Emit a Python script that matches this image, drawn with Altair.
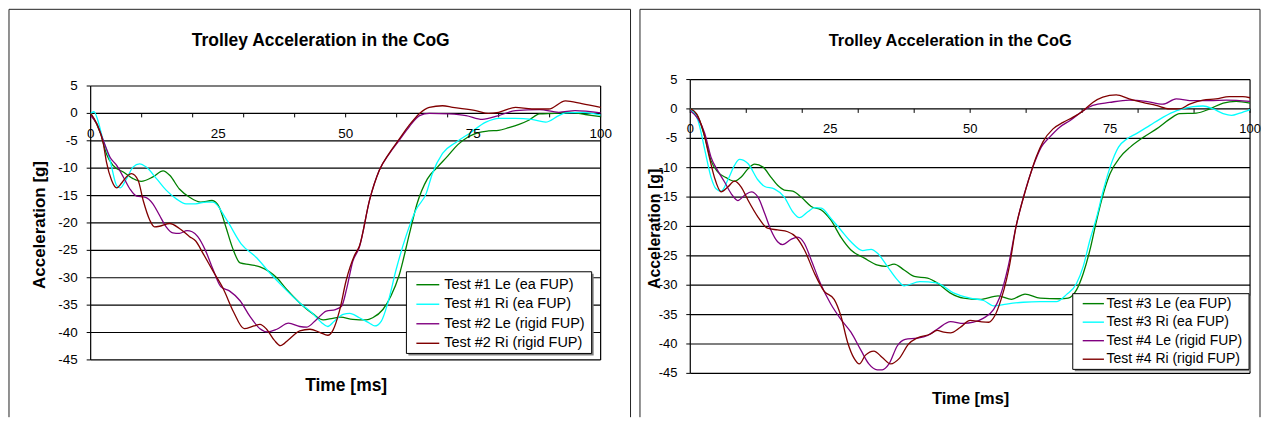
import altair as alt
import pandas as pd

FONT = "Liberation Sans"
NAMES_L = ["Test #1 Le (ea FUP)", "Test #1 Ri (ea FUP)", "Test #2 Le (rigid FUP)", "Test #2 Ri (rigid FUP)"]
NAMES_R = ["Test #3 Le (ea FUP)", "Test #3 Ri (ea FUP)", "Test #4 Le (rigid FUP)", "Test #4 Ri (rigid FUP)"]
COLORS = ["#008000", "#00FFFF", "#800080", "#800000"]
TITLE = "Trolley Acceleration in the CoG"
X_TITLE = "Time [ms]"
Y_TITLE = "Acceleration [g]"
X_TICKS = [0, 10, 20, 30, 40, 50, 60, 70, 80, 90, 100]
X_LABELS = [0, 25, 50, 75, 100]
Y_TICKS = [5, 0, -5, -10, -15, -20, -25, -30, -35, -40, -45]

# ---- left chart ----
t1le = [0, 2, 3.1, 4.4, 6.4, 8.3, 9.9, 12.2, 14.2, 15.5, 17.4, 19.4, 21.6, 23.8, 25.2, 26.5, 27.8, 29.3,
        31.2, 33.2, 36.5, 38.4, 41, 43.6, 45.6, 47.5, 49, 51.4, 54, 55.3, 57.3, 58.9, 60.5, 62.5, 64, 66,
        68, 70, 72, 74, 76, 78, 80, 82, 84, 86, 88, 91, 94, 97, 100]
v1le = [0, -3.8, -7.4, -9.5, -10.7, -11.9, -12.4, -11.6, -10.5, -11.3, -13.8, -15.3, -16.2, -15.9, -17.1,
        -20.7, -24.5, -27.3, -27.6, -28.0, -30.0, -32.1, -34.6, -36.6, -37.7, -37.4, -37.2, -37.6, -37.7,
        -37.3, -35.8, -33.3, -29.5, -22, -16.5, -12, -9.8, -7.8, -5.7, -4.3, -3.5, -3.2, -3.1, -2.6, -2.0,
        -1.2, -0.1, 0, 0.2, -0.2, -0.6]

t1ri = [0, 0.6, 2.5, 3.8, 5.1, 5.8, 7, 8.3, 9.6, 10.9, 12.9, 14.8, 16.8, 18.7, 20.6, 22.6, 24, 26.7, 29.5,
        32.6, 35, 38.4, 41, 43.6, 45.3, 46.5, 47.8, 49.5, 50.8, 52.7, 54.7, 55.7, 57, 58.3, 59.9, 61.8, 63.8,
        65.8, 67, 69, 71.6, 74.2, 77.5, 80, 83.3, 86.5, 89.2, 91.8, 93.1, 96.4, 100]
v1ri = [0, 0.3, -5, -8.6, -13.2, -13.6, -12, -9.8, -9.2, -9.8, -11.9, -14, -15.6, -16.5, -16.5, -16.2,
        -16.2, -19.5, -23.8, -26.4, -29, -32.3, -34.6, -36.6, -38.2, -38.9, -37.9, -36.7, -36.5, -37.3,
        -38.3, -38.8, -37.9, -34.5, -28.5, -22.5, -17.6, -14.6, -11, -7.3, -5.3, -3.7, -1.6, -0.9, -0.9,
        -1.1, -1.6, -0.4, 0.1, 0.2, -0.3]

t2le = [0, 1.2, 2.5, 3.8, 5.1, 6.4, 7.7, 9, 10.6, 12.2, 13.5, 14.8, 16.1, 17.4, 18.9, 19.9, 21, 22.5, 24,
        25.5, 27.2, 29.3, 31.2, 33.2, 34.7, 36.5, 38.8, 41, 42.4, 44.3, 46.2, 48, 49.2, 50.2, 51.4, 52.7,
        54.7, 56.6, 58.6, 60.5, 62.5, 64.5, 66.4, 70.3, 73.6, 76.8, 80, 83.3, 88, 91.8, 95, 100]
v2le = [-0.4, -1.9, -5, -8, -9.5, -11.6, -13.8, -15.1, -15.3, -16.5, -18.6, -20.7, -21.8, -21.9, -21.4,
        -21.6, -22.5, -25, -28.5, -31.6, -32.4, -34.2, -37, -39.3, -39.9, -39.4, -38.3, -38.9, -39, -37.6,
        -36.1, -35.8, -35.2, -32, -27, -24.4, -15.8, -10.4, -7.3, -4.9, -2.4, -0.4, 0, -0.1, -0.4, -1.1,
        -0.4, 0.5, 0.7, 0.2, 0.5, 0.1]

t2ri = [0, 1.2, 2.5, 3.1, 4.1, 5.1, 6, 7, 8, 9.3, 10.3, 11.6, 12.5, 13.5, 15.5, 17.4, 19.4, 20.6, 22, 24,
        26, 28, 30.1, 32, 33.2, 34.5, 36, 37.2, 38.8, 41, 43, 45, 46.5, 47.5, 48.8, 50.1, 51.7, 52.7, 54.7,
        56.6, 58.6, 60.5, 62.5, 64.5, 66.4, 69, 71, 75.5, 78, 80, 83.3, 86.5, 89.8, 93.1, 96.3, 100]
v2ri = [0, -1.9, -5.6, -8.9, -12.2, -13.6, -12.8, -11.6, -11, -12.2, -15.9, -19.5, -20.7, -20.6, -20.1,
        -21, -22.5, -23.3, -25.5, -28.8, -32, -36.2, -39.3, -38.8, -38.5, -39.4, -41.4, -42.4, -41.3, -39.7,
        -39.4, -40, -40.5, -39.6, -36, -30.5, -26, -24.2, -15.8, -10.4, -7.2, -4.7, -2.1, 0, 1.1, 1.4, 1.1,
        0.5, 0, 0.2, 1.1, 0.8, 0.8, 2.3, 1.8, 1.1]

# ---- right chart ----
t3le = [0, 1.4, 2.6, 3.7, 4.9, 6.4, 7.9, 9.1, 10.3, 11.5, 13, 14.4, 15.6, 16.8, 18.3, 19.8, 21.6, 23.4,
        25.1, 26.9, 28.7, 31.1, 33.5, 34.9, 36.4, 38.2, 40, 42.4, 44.1, 46.4, 48.8, 51.8, 55, 57.4, 59.8,
        62.5, 66, 67.5, 69, 70.2, 71.4, 72.6, 73.8, 75, 76.8, 78.6, 81, 83.3, 85.7, 87.4, 90.4, 92.8, 95.2,
        97.5, 100]
v3le = [0, -1.4, -4.8, -8.8, -10.7, -11.7, -12.3, -11.6, -10.2, -9.4, -9.9, -11.6, -13, -13.8, -14, -15,
        -16.6, -17.2, -18.9, -21.8, -24, -25.4, -26.6, -26.8, -26.4, -27.4, -28.5, -28.8, -29.6, -31.3,
        -32.2, -32.4, -31.8, -32.4, -31.5, -32.2, -32.3, -32.2, -30.8, -28, -24, -18.9, -14.4, -11, -8.2,
        -6.5, -4.8, -3.4, -1.7, -0.8, -0.7, 0, 1, 1.3, 1]

t3ri = [0, 1.4, 2.6, 3.7, 4.6, 5.5, 6.7, 7.9, 8.8, 10.3, 12.1, 13.3, 15, 16.8, 18.3, 19.5, 21, 22.2, 23.4,
        25.1, 26.9, 28.7, 30.8, 32.3, 33.5, 35.2, 37, 38.2, 41, 44, 47, 50, 52.4, 54.2, 56.5, 59.5, 62.5,
        65.4, 67.2, 69, 70.2, 71.4, 72.6, 73.8, 75, 76.5, 78, 79.7, 82.1, 84.5, 86.9, 89.8, 91.6, 93.4,
        95.2, 96.7, 98.2, 100]
v3ri = [0, -2, -7, -11.6, -13.6, -14, -12.1, -9.6, -8.6, -9.3, -12.1, -13.2, -13.6, -15, -17.5, -18.5,
        -17.5, -16.8, -16.9, -18.6, -20.6, -22.6, -24.1, -23.9, -24.6, -26.8, -29.1, -30.1, -29.4, -29.6,
        -31.3, -32.2, -32.6, -33.5, -33.2, -32.9, -32.8, -32.8, -31.6, -29.7, -26.8, -22.3, -18.4, -13.8,
        -9.9, -6.5, -5.1, -4.2, -2.8, -1.4, -0.3, 0.4, 0.5, 0, -0.8, -1.1, -0.7, -0.1]

t4le = [0, 1.4, 2.6, 3.7, 4.9, 6.1, 7.3, 8.5, 9.7, 10.9, 12.1, 13.3, 14.4, 15.6, 16.5, 18, 19.2, 20.4,
        21.6, 23.3, 25.1, 26.9, 28.7, 30.5, 31.9, 33.4, 34.3, 35.5, 37, 38.4, 40.5, 42.3, 44.1, 46.5, 48.8,
        50.6, 52.4, 54.2, 55.3, 56.8, 58.2, 59.7, 61.2, 62.7, 64.2, 66, 67.8, 70.2, 71.9, 74.9, 78.4, 81.4,
        84.4, 86.8, 89.8, 92.8, 95.8, 100]
v4le = [-0.3, -1.7, -4.2, -8.2, -10.5, -12.4, -14.4, -15.6, -14.7, -14.1, -15, -17.8, -20.6, -22.6, -23.1,
        -22.2, -21.8, -22.9, -25.7, -29.8, -33.2, -35.8, -38, -41.1, -43.4, -44.4, -44.4, -43.4, -40.3,
        -39.2, -39, -38.6, -37.5, -36.2, -36.5, -36.3, -35.6, -34.1, -32, -26.8, -20, -14.4, -9.9, -6.5,
        -4.8, -3.1, -2, -0.3, 0.6, 1.1, 1.5, 1.3, 0.8, 1.7, 1.4, 1.4, 1.5, 1.3]

t4ri = [0, 1.1, 2.3, 3.4, 4.3, 5.5, 6.7, 7.9, 9.1, 10.3, 12.1, 13.8, 15.6, 17.4, 18.9, 20.4, 22.2, 23.9,
        25.7, 26.9, 28.1, 29.3, 30.2, 31.3, 32.8, 34.3, 35.8, 37.3, 39, 40.5, 42.9, 44.1, 45.3, 46.5, 48.2,
        50, 51.8, 53.3, 54.4, 55.5, 56.5, 57, 58.2, 59.4, 60.6, 61.8, 63, 64.8, 66.6, 68.4, 70.2, 71.9,
        73.7, 76.1, 78.4, 80.8, 83.2, 85.6, 87.4, 89.2, 91.6, 93.9, 96.3, 98.7, 100]
v4ri = [0, -0.8, -3.7, -8.2, -11.6, -14.1, -13.3, -12.3, -13.3, -15.5, -18.4, -20.3, -20.6, -20.9, -21.8,
        -24, -28, -31, -32.4, -35.2, -39.7, -42.5, -43.4, -41.9, -41.2, -42.3, -43.4, -42.5, -40, -39,
        -38.3, -37.7, -38, -38.1, -37.2, -36, -36.2, -36.3, -35.2, -32.5, -29, -26.8, -20, -15.5, -11.6,
        -8.2, -5.6, -3.4, -2.3, -1.4, -0.3, 1.1, 2, 2.4, 1.7, 1.1, 0.6, 0, 0, 0.8, 1.5, 1.7, 2.1, 2.1, 1.9]

ONE = pd.DataFrame({"k": [0]})
XSCALE = alt.Scale(domain=[0, 100], nice=False, zero=False)
INK = "#000000"
GRIDW = 1.2


def panel(series, names, g):
    W, H, off = g["w"], g["h"], g["off"]
    VH = off + H
    ysc = alt.Scale(domain=[-45, 5], range=[VH, off], nice=False, zero=False)
    y0 = off + H * 5 / 50.0
    rows = []
    for name, (ts, vs) in zip(names, series):
        for t, v in zip(ts, vs):
            rows.append({"t": t, "v": v, "series": name})
    df = pd.DataFrame(rows)
    ydf = pd.DataFrame({"v": Y_TICKS, "lab": [str(v) for v in Y_TICKS]})

    # horizontal gridlines (incl. top and bottom border) through the y scale
    grid = alt.Chart(ydf).mark_rule(color=INK, strokeWidth=GRIDW).encode(
        y=alt.Y("v:Q", scale=ysc, axis=None))
    # y tick marks, y tick labels
    yticks = alt.Chart(ydf).mark_rule(color=INK, strokeWidth=1).encode(
        y=alt.Y("v:Q", scale=ysc, axis=None), x=alt.value(-4), x2=alt.value(0))
    ylabels = alt.Chart(ydf).mark_text(font=FONT, fontSize=g["lab"], align="right", baseline="middle",
                                       color=INK).encode(
        y=alt.Y("v:Q", scale=ysc, axis=None), x=alt.value(-13), text="lab:N")
    # left and right plot border through the scales
    border = alt.Chart(pd.DataFrame({"t": [0, 100], "a": [5, 5], "b": [-45, -45]})).mark_rule(
        color=INK, strokeWidth=GRIDW).encode(
        x=alt.X("t:Q", scale=XSCALE), y=alt.Y("a:Q", scale=ysc, axis=None), y2="b:Q")
    # x tick marks below the zero line (this layer carries the x axis title)
    xticks = alt.Chart(pd.DataFrame({"t": X_TICKS})).mark_rule(color=INK, strokeWidth=1).encode(
        x=alt.X("t:Q", scale=XSCALE,
                axis=alt.Axis(labels=False, ticks=False, domain=False, grid=False,
                              title=X_TITLE, titleX=g["xtx"], titleY=g["xty"], titleFontSize=g["tit"],
                              titleFont=FONT, titleColor=INK, titleFontWeight="bold",
                              titleBaseline="middle", titleAlign="center")),
        y=alt.value(y0), y2=alt.value(y0 + 4))

    lines = alt.Chart(df).mark_line(interpolate="monotone", strokeWidth=1.3).encode(
        x=alt.X("t:Q", scale=XSCALE),
        y=alt.Y("v:Q", scale=ysc, axis=None),
        color=alt.Color("series:N", scale=alt.Scale(domain=names, range=COLORS), legend=None),
    )

    # x tick labels drawn through the shared x scale, just below the zero line
    xlabels = alt.Chart(pd.DataFrame({"t": X_LABELS})).mark_text(
        font=FONT, fontSize=g["lab"], align="center", baseline="middle", color=INK
    ).encode(x=alt.X("t:Q", scale=XSCALE), y=alt.value(y0 + g["xly"]), text="t:Q")

    fl, fr, ft, fb = g["frame"]
    layers = [grid, yticks, ylabels, border, xticks, lines, xlabels]
    layers.append(alt.Chart(ONE).mark_rule(color="#222222", strokeWidth=1).encode(
        x=alt.value(fl), y=alt.value(ft), y2=alt.value(fb)))
    layers.append(alt.Chart(ONE).mark_rule(color="#222222", strokeWidth=1).encode(
        x=alt.value(fr), y=alt.value(ft), y2=alt.value(fb)))
    layers.append(alt.Chart(ONE).mark_rule(color="#222222", strokeWidth=1).encode(
        x=alt.value(fl), x2=alt.value(fr), y=alt.value(ft)))
    layers.append(alt.Chart(ONE).mark_text(text=TITLE, font=FONT, fontSize=g["tit"], fontWeight="bold",
                                           align="center", baseline="middle", color=INK).encode(
        x=alt.value(g["tx"]), y=alt.value(g["ty"])))
    layers.append(alt.Chart(ONE).mark_text(text=Y_TITLE, font=FONT, fontSize=g["ytit"], fontWeight="bold",
                                           angle=270, align="center", baseline="middle", color=INK).encode(
        x=alt.value(g["ytx"]), y=alt.value(g["yty"])))

    bx1, bx2, by1, by2 = g["box"]
    by1 += off
    by2 += off
    layers.append(alt.Chart(ONE).mark_rect(color="#7f7f7f").encode(
        x=alt.value(bx1 + 2), x2=alt.value(bx2 + 2), y=alt.value(by1 + 2), y2=alt.value(by2 + 2)))
    layers.append(alt.Chart(ONE).mark_rect(fill="white", stroke=INK, strokeWidth=1).encode(
        x=alt.value(bx1), x2=alt.value(bx2), y=alt.value(by1), y2=alt.value(by2)))
    s1, s2, tx = g["sym"]
    for i, (name, col) in enumerate(zip(names, COLORS)):
        yy = off + g["row0"] + i * g["rowstep"]
        layers.append(alt.Chart(ONE).mark_rule(color=col, strokeWidth=1.4).encode(
            x=alt.value(s1), x2=alt.value(s2), y=alt.value(yy)))
        layers.append(alt.Chart(ONE).mark_text(text=name, font=FONT, fontSize=g["leg"], align="left",
                                               baseline="middle", color=INK).encode(
            x=alt.value(tx), y=alt.value(yy)))
    return alt.layer(*layers).properties(
        width=W, height=VH, view=alt.ViewBackground(strokeOpacity=0, fill="white"))


# both panels share the same origin row (page y = 79); the left plot starts 6.5 px lower
GL = dict(w=512, h=275, off=6.5, xly=21, lab=13.5, tit=17.5, ytit=17, xtx=256, xty=26,
          ytx=-51, yty=146, frame=(-82, 542, -70.5, 339), tx=231, ty=-38.5,
          box=(317, 503, 186.5, 268.5), sym=(327, 350, 355), row0=199.5, rowstep=19.6, leg=14.5)
GR = dict(w=562, h=295, off=0, xly=20.5, lab=13, tit=16.5, ytit=16, xtx=281, xty=25,
          ytx=-35.5, yty=150, frame=(-50.5, 572, -70.5, 339), tx=261, ty=-38.5,
          box=(384, 561, 215, 291), sym=(394, 415.3, 418), row0=225, rowstep=18.6, leg=14)

left = panel([(t1le, v1le), (t1ri, v1ri), (t2le, v2le), (t2ri, v2ri)], NAMES_L, GL)
right = panel([(t3le, v3le), (t3ri, v3ri), (t4le, v4le), (t4ri, v4ri)], NAMES_R, GR)

chart = alt.hconcat(left, right, spacing=8, padding=0, background="white").configure_view(
    strokeOpacity=0
)

chart.save("out.html", embed_options={"renderer": "svg", "actions": False})
